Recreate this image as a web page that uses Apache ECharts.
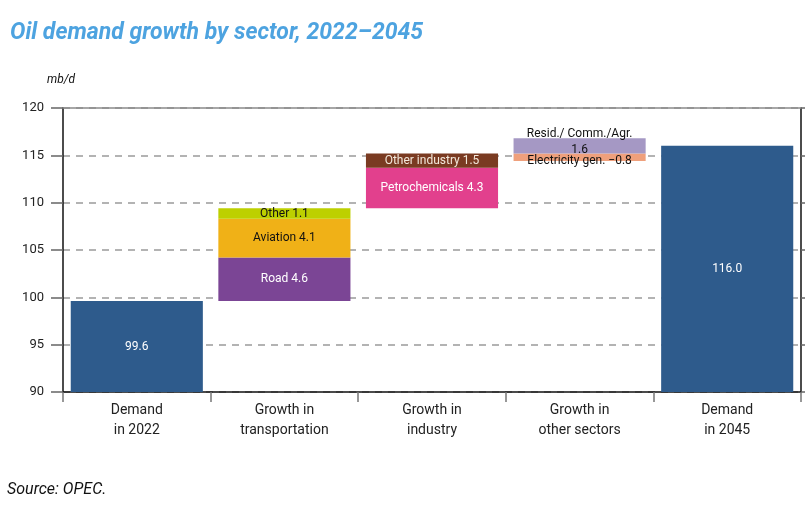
<!DOCTYPE html>
<html>
<head>
<meta charset="utf-8">
<script src="https://cdn.jsdelivr.net/npm/echarts@6/dist/echarts.min.js"></script>
<style>
html,body{margin:0;padding:0;background:#fff;}
#chart{width:811px;height:518px;}
</style>
</head>
<body>
<div id="chart"></div>
<script>
// ---- data ----
const categories = ['Demand\nin 2022', 'Growth in\ntransportation', 'Growth in\nindustry', 'Growth in\nother sectors', 'Demand\nin 2045'];
const demand2022 = 99.6;
const demand2045 = 116.0;
const transportNames = ['Road', 'Aviation', 'Other'];
const transportValues = [4.6, 4.1, 1.1];
const industryNames = ['Petrochemicals', 'Other industry'];
const industryValues = [4.3, 1.5];
const otherNames = ['Electricity gen.', 'Resid./ Comm./Agr.'];
const otherValues = [-0.8, 1.6];
const yTickLabels = [90, 95, 100, 105, 110, 115, 120];

// ---- styles ----
const totalColor = '#2E5B8C';
const transportColors = ['#7B4595', '#F0B117', '#BDD000'];
const transportText = ['#ffffff', '#111111', '#111111'];
const industryColors = ['#E2408D', '#7A3B22'];
const industryText = ['#ffffff', '#F3E9DC'];
const otherColors = ['#EFA07C', '#A598C4'];
const otherText = ['#111111', '#111111'];
const otherOffsets = [[0, 4], [0, -4]];

const fmt = v => (v < 0 ? '\u2212' + Math.abs(v).toFixed(1) : v.toFixed(1));

const groups = [
  { idx: 1, names: transportNames, values: transportValues, colors: transportColors, text: transportText, offsets: null },
  { idx: 2, names: industryNames, values: industryValues, colors: industryColors, text: industryText, offsets: null },
  { idx: 3, names: otherNames, values: otherValues, colors: otherColors, text: otherText, offsets: otherOffsets }
];

const n = categories.length;
const baseData = new Array(n).fill('-');
const totalData = new Array(n).fill('-');
totalData[0] = { value: demand2022, text: demand2022.toFixed(1) };
totalData[n - 1] = { value: demand2045, text: demand2045.toFixed(1) };

let maxSeg = 0;
groups.forEach(g => { maxSeg = Math.max(maxSeg, g.values.length); });
const segData = [];
for (let k = 0; k < maxSeg; k++) segData.push(new Array(n).fill('-'));

let running = demand2022;
groups.forEach(g => {
  const negSum = g.values.filter(v => v < 0).reduce((a, b) => a + b, 0);
  baseData[g.idx] = +(running + negSum).toFixed(4);
  // negatives first (drawn below running total), then positives
  const order = g.values.map((v, i) => i).sort((a, b) => (g.values[a] < 0 ? 0 : 1) - (g.values[b] < 0 ? 0 : 1));
  order.forEach((i, k) => {
    const v = g.values[i];
    const isResidLike = g.offsets && g.names[i].indexOf('Resid') === 0;
    segData[k][g.idx] = {
      value: Math.abs(v),
      text: isResidLike ? g.names[i] + '\n' + fmt(v) : g.names[i] + ' ' + fmt(v),
      itemStyle: { color: g.colors[i] },
      label: { color: g.text[i], offset: g.offsets ? g.offsets[i] : [0, 0] }
    };
  });
  running += g.values.reduce((a, b) => a + b, 0);
});

const labelFont = 'Roboto, "Noto Sans", sans-serif';

const series = [
  {
    type: 'bar', stack: 'w', data: baseData, barWidth: '89.5%',
    itemStyle: { color: 'rgba(0,0,0,0)' }, silent: true, label: { show: false }
  },
  {
    type: 'bar', stack: 'w', data: totalData,
    itemStyle: { color: totalColor },
    label: { show: true, position: 'inside', color: '#ffffff', fontSize: 12, fontFamily: labelFont, formatter: p => p.data.text }
  }
];
segData.forEach(d => {
  series.push({
    type: 'bar', stack: 'w', data: d,
    label: { show: true, position: 'inside', fontSize: 12, lineHeight: 16, fontFamily: labelFont, formatter: p => p.data.text }
  });
});

const chart = echarts.init(document.getElementById('chart'), null, { renderer: 'canvas' });
chart.setOption({
  animation: false,
  backgroundColor: '#ffffff',
  title: {
    text: 'Oil demand growth by sector, 2022\u20132045',
    left: 5, top: 17,
    textStyle: { fontSize: 23, fontStyle: 'italic', fontWeight: 'bold', color: '#4DA3E0', fontFamily: labelFont }
  },
  graphic: [
    { type: 'text', left: 47, top: 74, style: { text: 'mb/d', font: 'italic 12px ' + labelFont, fill: '#111' } },
    { type: 'text', left: 7, top: 482, style: { text: 'Source: OPEC.', font: 'italic 16px ' + labelFont, fill: '#111' } }
  ],
  grid: { left: 63, right: 10, top: 108, bottom: 126 },
  xAxis: [
    {
      type: 'category', data: categories, position: 'bottom',
      axisLine: { lineStyle: { color: '#111', width: 1.5 } },
      axisTick: { show: true, alignWithLabel: false, length: 10, lineStyle: { color: '#777', width: 1.5 } },
      axisLabel: { fontSize: 14, color: '#222', lineHeight: 20, margin: 8, fontFamily: labelFont, interval: 0 }
    },
    {
      type: 'category', data: categories, position: 'top',
      axisLine: { lineStyle: { color: '#8a8a8a', width: 1.5 } },
      axisTick: { show: false }, axisLabel: { show: false }
    }
  ],
  yAxis: [
    {
      type: 'value', min: yTickLabels[0], max: yTickLabels[yTickLabels.length - 1], interval: yTickLabels[1] - yTickLabels[0],
      axisLine: { show: true, lineStyle: { color: '#111', width: 1.5 } },
      axisTick: { show: true, length: 12, lineStyle: { color: '#666', width: 1.5 } },
      axisLabel: { fontSize: 13, color: '#222', margin: 19, fontFamily: labelFont },
      splitLine: { show: true, lineStyle: { color: '#9a9a9a', width: 1.5, type: [7, 6] } }
    },
    {
      type: 'value', position: 'right', min: yTickLabels[0], max: yTickLabels[yTickLabels.length - 1], interval: yTickLabels[1] - yTickLabels[0],
      axisLine: { show: true, lineStyle: { color: '#111', width: 1.5 } },
      axisTick: { show: true, length: 4, lineStyle: { color: '#666', width: 1.5 } },
      axisLabel: { show: false }, splitLine: { show: false }
    }
  ],
  series: series
});
</script>
</body>
</html>
